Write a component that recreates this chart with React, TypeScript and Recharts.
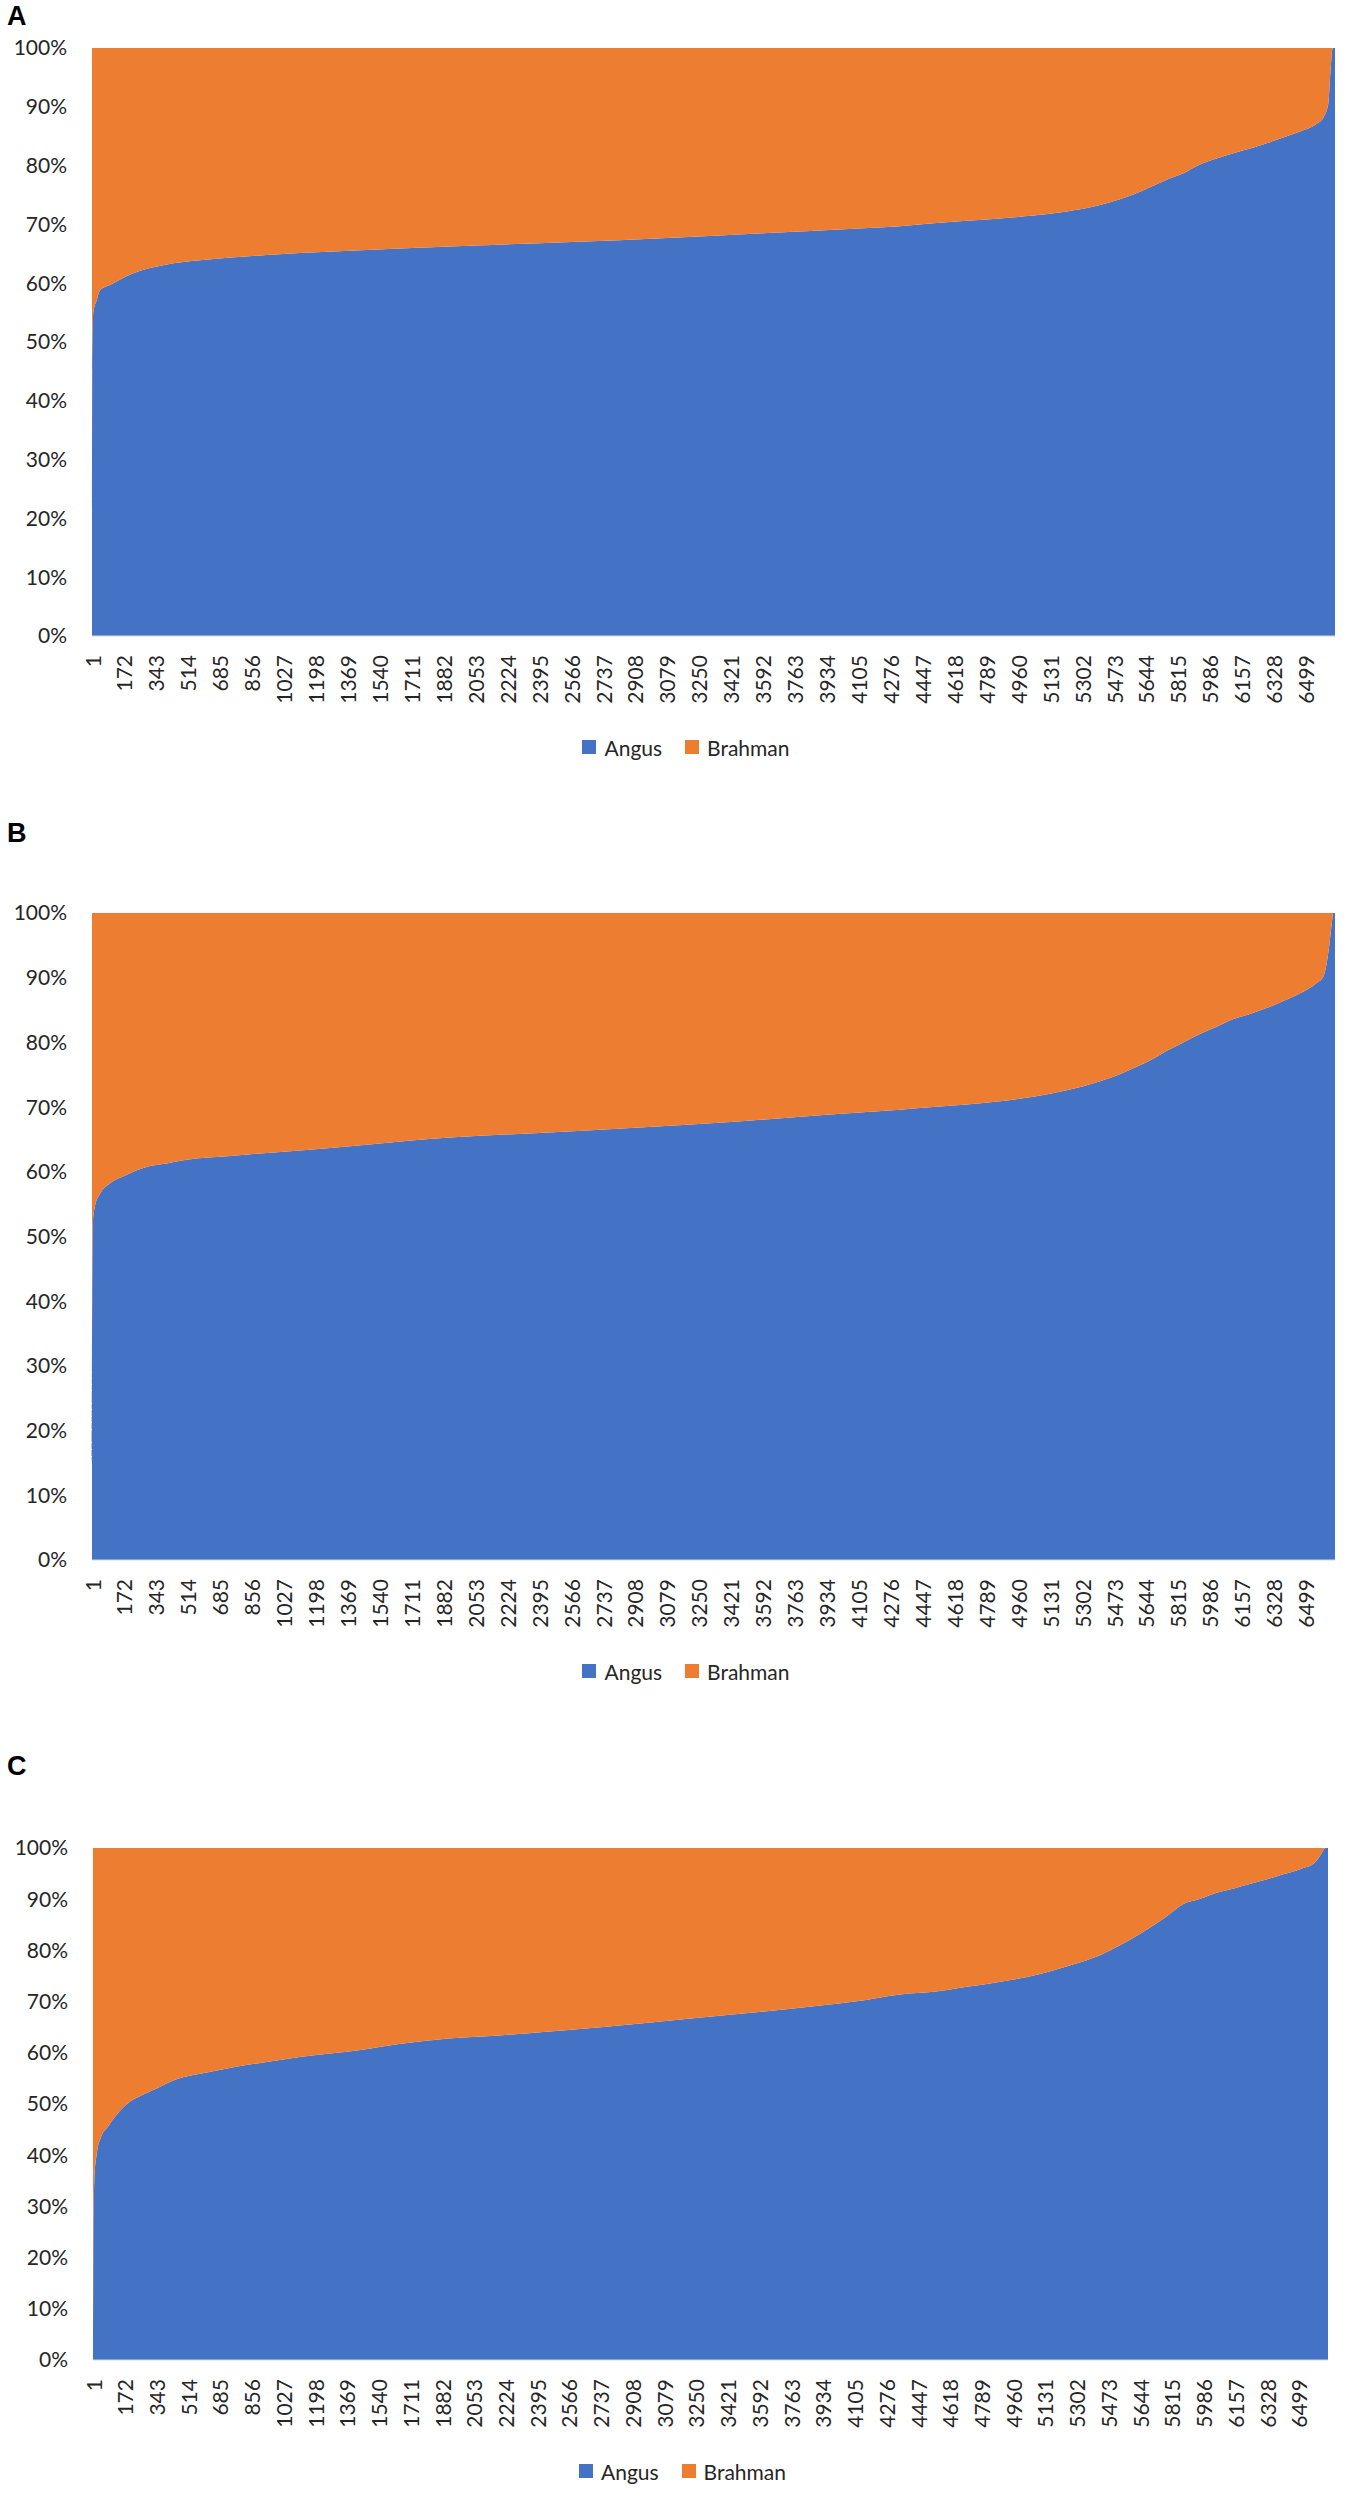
import React from 'react'
import { AreaChart, Area, XAxis, YAxis, Legend } from 'recharts'

// number of animals on the x axis (sorted by Angus proportion)
const CATEGORY_COUNT = 6656

const xTicks = [
  1, 172, 343, 514, 685, 856, 1027, 1198, 1369, 1540, 1711, 1882, 2053, 2224,
  2395, 2566, 2737, 2908, 3079, 3250, 3421, 3592, 3763, 3934, 4105, 4276, 4447,
  4618, 4789, 4960, 5131, 5302, 5473, 5644, 5815, 5986, 6157, 6328, 6499,
]
const yTicks = [0, 0.1, 0.2, 0.3, 0.4, 0.5, 0.6, 0.7, 0.8, 0.9, 1]

const seriesNames = ['Angus', 'Brahman']
const seriesColors = ['#4472C4', '#ED7D31']

// panel A
const idxA = [
  1, 2, 4, 8, 26, 44, 97, 222, 401, 579,
  936, 1292, 1650, 2053, 2566, 3079, 3592, 4105, 4327, 4505,
  4684, 4862, 5041, 5220, 5398, 5487, 5576, 5665, 5755, 5844,
  5933, 6022, 6112, 6201, 6290, 6379, 6469, 6558, 6594, 6620,
  6633, 6644, 6656,
]
const angusA = [
  0.2, 0.45, 0.52, 0.55, 0.571, 0.588, 0.597, 0.617, 0.632, 0.639,
  0.648, 0.654, 0.659, 0.664, 0.67, 0.677, 0.685, 0.693, 0.697, 0.702,
  0.706, 0.71, 0.715, 0.722, 0.733, 0.741, 0.751, 0.763, 0.776, 0.787,
  0.802, 0.812, 0.821, 0.829, 0.838, 0.848, 0.858, 0.871, 0.882, 0.905,
  0.966, 1, 1,
]

// panel B
const idxB = [
  1, 2, 5, 17, 44, 97, 169, 222, 312, 401,
  490, 758, 1115, 1472, 1918, 2395, 2908, 3421, 3934, 4327,
  4505, 4684, 4862, 5041, 5220, 5398, 5487, 5576, 5665, 5755,
  5844, 5933, 6022, 6112, 6201, 6290, 6379, 6469, 6558, 6594,
  6620, 6638, 6647, 6656,
]
const angusB = [
  0.15, 0.4, 0.52, 0.547, 0.566, 0.582, 0.593, 0.6, 0.609, 0.613,
  0.618, 0.625, 0.633, 0.642, 0.653, 0.66, 0.668, 0.677, 0.688, 0.696,
  0.7, 0.704, 0.709, 0.716, 0.726, 0.74, 0.749, 0.76, 0.772, 0.787,
  0.8, 0.813, 0.824, 0.836, 0.844, 0.853, 0.864, 0.876, 0.892, 0.902,
  0.938, 0.982, 1, 1,
]

// panel C
const idxC = [
  1, 3, 8, 22, 44, 80, 133, 187, 258, 347,
  454, 579, 758, 936, 1115, 1292, 1472, 1650, 1918, 2224,
  2737, 3250, 3763, 4105, 4351, 4531, 4711, 4891, 5070, 5250,
  5430, 5520, 5610, 5700, 5789, 5879, 5969, 6059, 6149, 6239,
  6329, 6419, 6509, 6581, 6617, 6644, 6656,
]
const angusC = [
  0.02, 0.25, 0.35, 0.405, 0.435, 0.455, 0.481, 0.501, 0.516, 0.531,
  0.549, 0.559, 0.572, 0.582, 0.592, 0.599, 0.607, 0.617, 0.628, 0.635,
  0.65, 0.668, 0.686, 0.7, 0.714, 0.719, 0.729, 0.739, 0.751, 0.769,
  0.791, 0.807, 0.825, 0.845, 0.867, 0.891, 0.901, 0.913, 0.921, 0.93,
  0.939, 0.949, 0.959, 0.97, 0.987, 1, 1,
]

const buildRows = (idx: number[], angus: number[]) =>
  idx.map((x, i) => ({ idx: x, angus: angus[i], brahman: 1 - angus[i] }))

const FONT = 'Lato, "Open Sans", sans-serif'
const TEXT = '#262626'
const X_AXIS_H = 98
const LEGEND_H = 26
const MARGIN_TOP = 20
const MARGIN_BOTTOM = 4

// layout of each panel (page pixels)
const panels = [
  { letter: 'A', letterY: 16, plotTop: 48, plotBottom: 636, plotLeft: 92, plotRight: 1335, rows: buildRows(idxA, angusA) },
  { letter: 'B', letterY: 833, plotTop: 913, plotBottom: 1560, plotLeft: 92, plotRight: 1335, rows: buildRows(idxB, angusB) },
  { letter: 'C', letterY: 1766, plotTop: 1848, plotBottom: 2360, plotLeft: 93, plotRight: 1328, rows: buildRows(idxC, angusC) },
]

const RotatedTick = (props: any) => {
  const { x, y, payload } = props
  return (
    <text
      x={x}
      y={y}
      transform={`rotate(-90, ${x}, ${y})`}
      textAnchor="end"
      dominantBaseline="central"
      fontFamily={FONT}
      fontSize={21}
      fill={TEXT}
    >
      {payload.value}
    </text>
  )
}

const renderLegend = () => (
  <div
    style={{
      display: 'flex',
      justifyContent: 'center',
      alignItems: 'center',
      height: LEGEND_H,
      paddingLeft: 37,
      fontFamily: FONT,
      fontSize: 21,
      color: TEXT,
    }}
  >
    {seriesNames.map((name, i) => (
      <span key={name} style={{ display: 'inline-flex', alignItems: 'center', marginRight: i === 0 ? 23 : 0 }}>
        <span style={{ display: 'inline-block', width: 14, height: 14, background: seriesColors[i], marginRight: 8 }} />
        {name}
      </span>
    ))}
  </div>
)

function Panel({ panel }: { panel: any }) {
  const plotH = panel.plotBottom - panel.plotTop
  const height = MARGIN_TOP + plotH + X_AXIS_H + LEGEND_H + MARGIN_BOTTOM
  return (
    <>
      <div
        style={{
          position: 'absolute',
          left: 7,
          top: panel.letterY - 16,
          fontFamily: '"Liberation Sans", Arial, sans-serif',
          fontWeight: 'bold',
          fontSize: 27,
          lineHeight: '32px',
          color: '#000',
        }}
      >
        {panel.letter}
      </div>
      <div style={{ position: 'absolute', left: 0, top: panel.plotTop - MARGIN_TOP }}>
        <AreaChart
          width={1350}
          height={height}
          data={panel.rows}
          margin={{ top: MARGIN_TOP, right: 1350 - panel.plotRight, left: 0, bottom: MARGIN_BOTTOM }}
        >
          <XAxis
            type="number"
            dataKey="idx"
            domain={[1, CATEGORY_COUNT]}
            ticks={xTicks}
            interval={0}
            tick={(p: any) => <RotatedTick {...p} />}
            tickLine={false}
            tickSize={0}
            tickMargin={19}
            axisLine={{ stroke: '#D9D9D9', strokeWidth: 1 }}
            height={X_AXIS_H}
          />
          <YAxis
            type="number"
            domain={[0, 1]}
            ticks={yTicks}
            interval={0}
            width={panel.plotLeft}
            axisLine={false}
            tickLine={false}
            tickSize={0}
            tickMargin={25}
            tickFormatter={(v: number) => `${Math.round(v * 100)}%`}
            tick={{ fontSize: 21, fill: TEXT, fontFamily: FONT }}
          />
          <Area
            type="monotone"
            dataKey="angus"
            name={seriesNames[0]}
            stackId="mix"
            stroke="none"
            fill={seriesColors[0]}
            fillOpacity={1}
            dot={false}
            activeDot={false}
            isAnimationActive={false}
          />
          <Area
            type="monotone"
            dataKey="brahman"
            name={seriesNames[1]}
            stackId="mix"
            stroke="none"
            fill={seriesColors[1]}
            fillOpacity={1}
            dot={false}
            activeDot={false}
            isAnimationActive={false}
          />
          <Legend verticalAlign="bottom" height={LEGEND_H} content={renderLegend} />
        </AreaChart>
      </div>
    </>
  )
}

export default function App() {
  return (
    <div style={{ position: 'absolute', left: 0, top: 0, width: 1350, height: 2499, background: '#fff' }}>
      {panels.map((p) => (
        <Panel key={p.letter} panel={p} />
      ))}
    </div>
  )
}
